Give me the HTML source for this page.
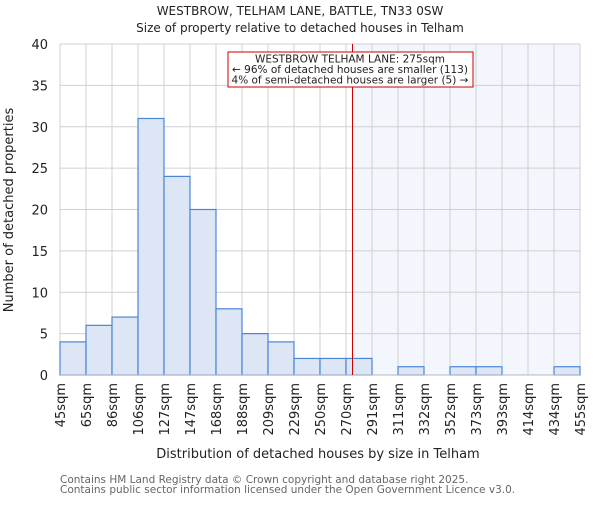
<!DOCTYPE html>
<html><head><meta charset="utf-8"><style>body{margin:0;background:#fff}svg{font-family:"DejaVu Sans","Liberation Sans",sans-serif}</style></head>
<body>
<svg id="c" width="600" height="500"></svg>
<script>
const categories=["45sqm","65sqm","86sqm","106sqm","127sqm","147sqm","168sqm","188sqm","209sqm","229sqm","250sqm","270sqm","291sqm","311sqm","332sqm","352sqm","373sqm","393sqm","414sqm","434sqm","455sqm"];
const counts=[4,6,7,31,24,20,8,5,4,2,2,2,0,1,0,1,1,0,0,1];
const yTicks=[0,5,10,15,20,25,30,35,40];
const markerBin=11.25;
const L=60,R=580,T=44,B=375,yMax=40;
const n=counts.length,bw=(R-L)/n;
const x=i=>L+i*bw, y=v=>B-(v/yMax)*(B-T);
const s=document.getElementById('c');const NS="http://www.w3.org/2000/svg";
function el(t,a,p){const e=document.createElementNS(NS,t);for(const k in a)e.setAttribute(k,a[k]);(p||s).appendChild(e);return e;}
function tx(str,a){const e=el('text',a);e.textContent=str;return e;}
let e;
e=tx("WESTBROW, TELHAM LANE, BATTLE, TN33 0SW",{x:300,y:15,'text-anchor':'middle','font-size':12,fill:'#222'});

e=tx("Size of property relative to detached houses in Telham",{x:300,y:32,'text-anchor':'middle','font-size':12,fill:'#222'});

const mx=x(markerBin);
e=el('rect',{x:mx,y:T,width:R-mx,height:B-T,fill:'#f3f6fd'});

for(let i=0;i<=n;i++){e=el('line',{x1:x(i),x2:x(i),y1:T,y2:B,stroke:'#d0d0d0'});}
yTicks.forEach(v=>{e=el('line',{x1:L,x2:R,y1:y(v),y2:y(v),stroke:'#d0d0d0'});
e=tx(String(v),{x:L-12,y:y(v)+5,'text-anchor':'end','font-size':13,fill:'#222'});});
counts.forEach((v,i)=>{if(v<=0)return;e=el('rect',{x:x(i),y:y(v),width:bw,height:B-y(v),fill:'#dde6f4',stroke:'#4a86d8','stroke-width':1.2});
});
e=el('line',{x1:L,x2:R,y1:B,y2:B,stroke:'#b0b8c8'});
categories.forEach((c,i)=>{e=tx(c,{transform:`translate(${x(i)+5},${B+8}) rotate(-90)`,'text-anchor':'end','font-size':13,fill:'#222'});
});
e=el('line',{x1:mx,x2:mx,y1:T,y2:B,stroke:'#cc0000','stroke-width':1});
e=el('rect',{x:228,y:52,width:245,height:35,fill:'#fff',stroke:'#cc0000'});
["WESTBROW TELHAM LANE: 275sqm","← 96% of detached houses are smaller (113)","4% of semi-detached houses are larger (5) →"].forEach((t,i)=>{
e=tx(t,{x:350,y:62.5+i*10.5,'text-anchor':'middle','font-size':10.5,fill:'#222'});});
e=tx("Number of detached properties",{transform:'translate(13,210) rotate(-90)','text-anchor':'middle','font-size':13,fill:'#222'});

e=tx("Distribution of detached houses by size in Telham",{x:318,y:458,'text-anchor':'middle','font-size':13,fill:'#222'});

e=tx("Contains HM Land Registry data © Crown copyright and database right 2025.",{x:60,y:483,'font-size':10.5,fill:'#666'});

e=tx("Contains public sector information licensed under the Open Government Licence v3.0.",{x:60,y:493,'font-size':10.5,fill:'#666'});

</script>
</body></html>
